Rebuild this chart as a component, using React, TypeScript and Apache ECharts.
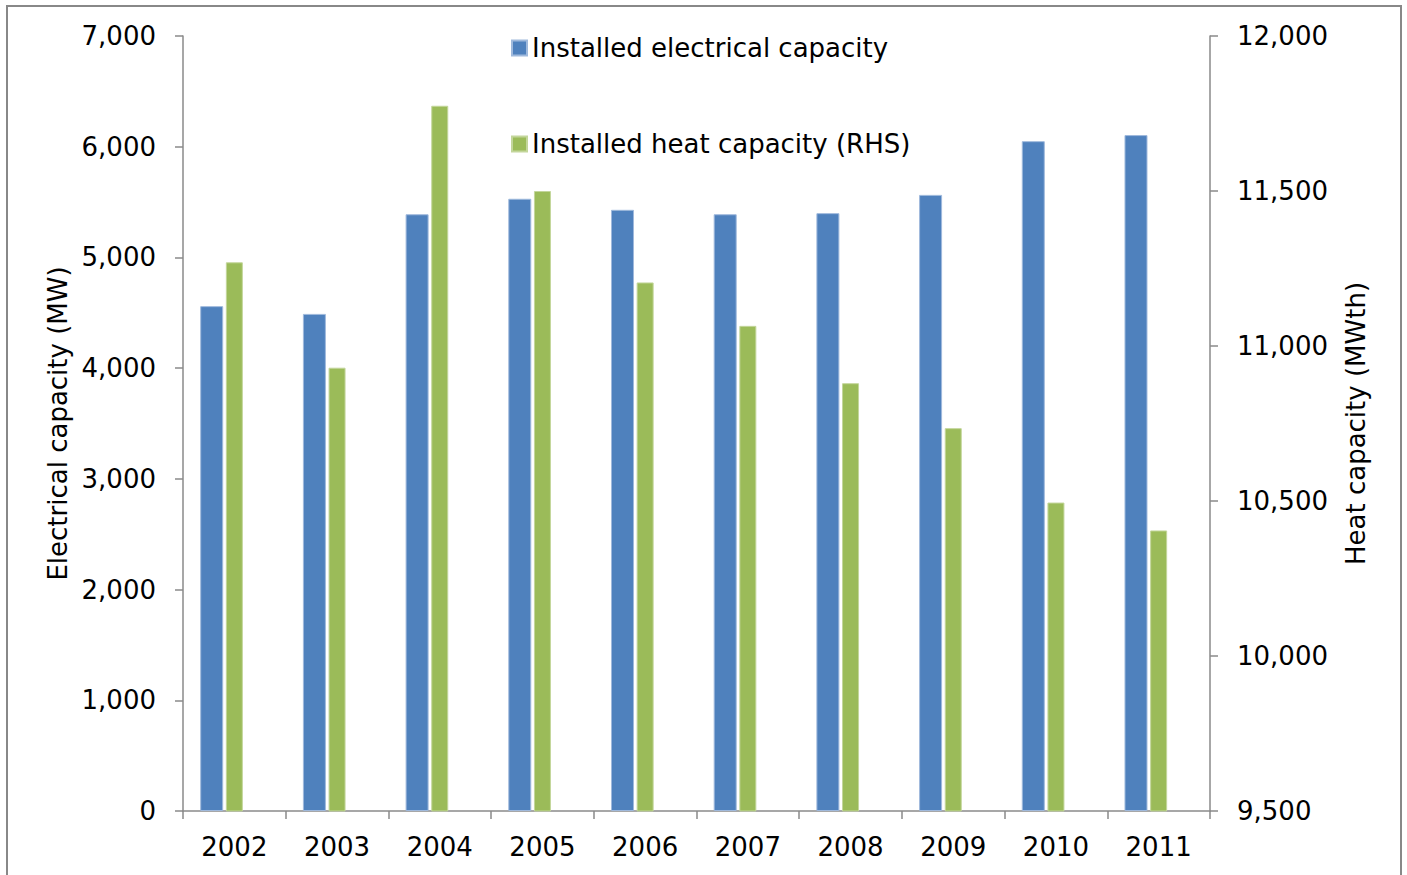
import React, { useEffect, useRef } from "react";
import * as echarts from "echarts";

const years = ["2002", "2003", "2004", "2005", "2006", "2007", "2008", "2009", "2010", "2011"];
const electrical = [4560, 4490, 5390, 5530, 5430, 5390, 5400, 5565, 6050, 6105];
const heat = [11270, 10930, 11775, 11500, 11205, 11065, 10880, 10735, 10495, 10405];
const seriesNames = ["Installed electrical capacity", "Installed heat capacity (RHS)"];
const emptyRow = years.map(() => null);

const FONT = "DejaVu Sans, Verdana, sans-serif";
const AXIS_COLOR = "#8a8a8a";
const fmt = (v: number) => v.toLocaleString("en-US");

export default function App() {
  const ref = useRef<HTMLDivElement>(null);
  useEffect(() => {
    if (!ref.current) return;
    const chart = echarts.init(ref.current, undefined, { renderer: "svg" });
    const axisLine = { show: true, lineStyle: { color: AXIS_COLOR, width: 1.5 } };
    const axisTick = { show: true, inside: false, length: 8, lineStyle: { color: AXIS_COLOR, width: 1.5 } };
    chart.setOption({
      animation: false,
      backgroundColor: "#ffffff",
      textStyle: { fontFamily: FONT },
      graphic: [
        {
          type: "rect",
          shape: { x: 7, y: 6, width: 1394, height: 1000 },
          style: { fill: "none", stroke: "#888888", lineWidth: 2 },
          silent: true,
          z: -1,
        },
      ],
      legend: {
        data: seriesNames,
        orient: "vertical",
        left: 511,
        top: 35,
        padding: 0,
        itemWidth: 15,
        itemHeight: 15,
        itemGap: 70,
        icon: "rect",
        textStyle: { fontFamily: FONT, fontSize: 26, color: "#000000" },
      },
      grid: { left: 183, right: 197, top: 36, bottom: 64, containLabel: false },
      xAxis: [
        {
          type: "category",
          data: years,
          position: "bottom",
          axisLine,
          axisTick: { ...axisTick, alignWithLabel: false },
          axisLabel: { fontFamily: FONT, fontSize: 26, color: "#000000", margin: 23 },
          splitLine: { show: false },
        },
        {
          type: "category",
          data: years,
          position: "bottom",
          show: false,
        },
      ],
      yAxis: [
        {
          type: "value",
          min: 0,
          max: 7000,
          interval: 1000,
          name: "Electrical capacity (MW)",
          nameLocation: "middle",
          nameGap: 110,
          nameTextStyle: { fontFamily: FONT, fontSize: 26, color: "#000000" },
          axisLine,
          axisTick,
          axisLabel: { fontFamily: FONT, fontSize: 26, color: "#000000", margin: 27, formatter: fmt },
          splitLine: { show: false },
        },
        {
          type: "value",
          min: 9500,
          max: 12000,
          interval: 500,
          position: "right",
          name: "Heat capacity (MWth)",
          nameLocation: "middle",
          nameGap: 133,
          nameRotate: 90,
          nameTextStyle: { fontFamily: FONT, fontSize: 26, color: "#000000" },
          axisLine,
          axisTick,
          axisLabel: { fontFamily: FONT, fontSize: 26, color: "#000000", margin: 27, formatter: fmt },
          splitLine: { show: false },
        },
      ],
      series: [
        {
          name: seriesNames[0],
          type: "bar",
          xAxisIndex: 0,
          yAxisIndex: 0,
          data: electrical,
          barWidth: 23,
          barGap: "97%",
          itemStyle: { color: "#4F81BD", borderColor: "#9fb9dc", borderWidth: 1 },
        },
        {
          name: "spacer",
          type: "bar",
          xAxisIndex: 0,
          yAxisIndex: 0,
          data: emptyRow,
          barWidth: 23,
          barGap: "97%",
          silent: true,
          itemStyle: { color: "transparent" },
        },
        {
          name: seriesNames[1],
          type: "bar",
          xAxisIndex: 1,
          yAxisIndex: 1,
          data: heat,
          barWidth: 17,
          itemStyle: { color: "#9BBB59", borderColor: "#c3d69b", borderWidth: 1 },
        },
      ],
    });
    return () => chart.dispose();
  }, []);
  return (
    <div
      ref={ref}
      style={{ position: "fixed", left: 0, top: 0, width: 1407, height: 875, background: "#fff" }}
    />
  );
}
